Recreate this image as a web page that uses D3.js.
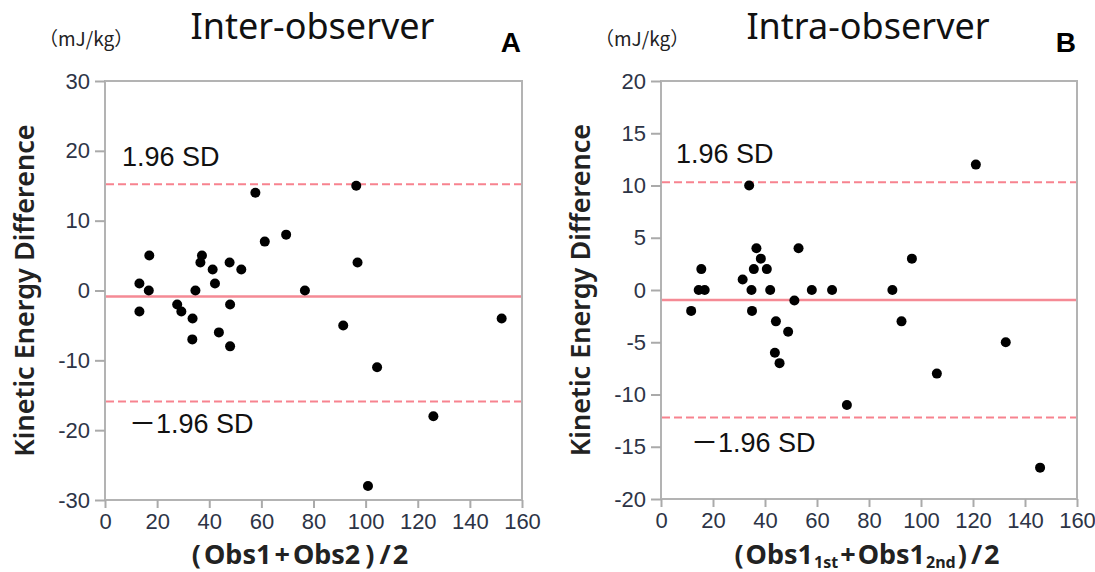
<!doctype html>
<html>
<head>
    <meta charset="UTF-8">
    <title>Bland-Altman</title>
    <script src="https://d3js.org/d3.v7.min.js"></script>
    <style>
        body{ margin:0; background:#fff; }
        .tick text{ font-family:"Liberation Sans", Arial, sans-serif; font-size:22px; fill:#2d3446; }
        .tick line{ stroke:#aaa; stroke-width:2; }
    </style>
</head>
<body>
  <svg width="1095" height="572" id="svg1"></svg>
  <script>
    // panel A : inter-observer
    var interAvg  = [13.2,13.2,17,16.8,27.7,29.3,33.6,33.5,34.7,37.2,36.6,41.3,42.2,43.7,47.8,48,48,52.3,57.7,61.3,69.5,76.7,91.4,96.4,96.9,100.9,104.4,126,152.2];
    var interDiff = [1,-3,5,0,-2,-3,-4,-7,0,5,4,3,1,-6,4,-2,-8,3,14,7,8,0,-5,15,4,-28,-11,-18,-4];
    var interLimits = [15.2, -0.85, -15.9];   // +1.96SD, mean, -1.96SD
    // panel B : intra-observer
    var intraAvg  = [11.6,15.5,14.5,16.8,31.4,33.9,36.7,38.4,35.7,34.8,35.0,40.7,42.0,44.2,48.9,43.8,45.6,52.9,51.3,58.0,65.8,71.5,89.0,92.5,96.5,106.1,121.1,132.6,145.8];
    var intraDiff = [-2,2,0,0,1,10,4,3,2,0,-2,2,0,-3,-4,-6,-7,4,-1,0,0,-11,0,-3,3,-8,12,-5,-17];
    var intraLimits = [10.3, -0.95, -12.2];

    var xTicks  = [0,20,40,60,80,100,120,140,160];
    var yTicksA = [30,20,10,0,-10,-20,-30];
    var yTicksB = [20,15,10,5,0,-5,-10,-15,-20];

    var svg = d3.select("#svg1");
    var plain = function(d){ return String(d); };   // hyphen minus like the original

    function panel(o){
        var g = svg.append("g");
        var x = d3.scaleLinear().domain([0,160]).range([o.left,o.right]);
        var y = d3.scaleLinear().domain(o.yDomain).range([o.bottom,o.top]);

        // frame
        g.append("rect").attr("x",o.left).attr("y",o.top)
            .attr("width",o.right-o.left).attr("height",o.bottom-o.top)
            .attr("fill","none").attr("stroke","#b3b3b3").attr("stroke-width",2);

        var ya = g.append("g").attr("transform","translate("+o.left+",0)")
            .call(d3.axisLeft(y).tickValues(o.yTicks).tickFormat(plain).tickSize(10).tickPadding(5));
        ya.select(".domain").remove();
        var xa = g.append("g").attr("transform","translate(0,"+o.bottom+")")
            .call(d3.axisBottom(x).tickValues(xTicks).tickFormat(plain).tickSize(8).tickPadding(5));
        xa.select(".domain").remove();

        // limits of agreement
        o.limits.forEach(function(v,i){
            g.append("line").attr("x1",o.left+1).attr("x2",o.right-1)
             .attr("y1",y(v)).attr("y2",y(v))
             .attr("stroke", i==1 ? "#f58a95" : "#f7838f")
             .attr("stroke-width", i==1 ? 2.5 : 2)
             .attr("stroke-dasharray", i==1 ? null : "8,4");
        });

        // points
        g.selectAll("circle").data(o.xs).enter().append("circle")
            .attr("cx",function(d){ return x(d); })
            .attr("cy",function(d,i){ return y(o.ys[i]); })
            .attr("r",5).attr("fill","#000");

        // SD labels
        g.append("text").attr("x",o.left+o.upDx).attr("y",y(o.limits[0])+o.upDy)
            .attr("font-family","Liberation Sans, Arial, sans-serif").attr("font-size",27)
            .attr("fill","#111").text("1.96 SD");
        var lo = g.append("text").attr("x",o.left+o.loDx).attr("y",y(o.limits[2])+o.loDy)
            .attr("font-family","Liberation Sans, Arial, sans-serif").attr("font-size",27)
            .attr("fill","#111");
        lo.append("tspan").attr("font-family","Noto Sans CJK JP, sans-serif").text("－");
        lo.append("tspan").text("1.96 SD");

        // unit
        g.append("text").attr("x",o.left-66).attr("y",46)
            .attr("font-family","Noto Sans CJK JP, sans-serif").attr("font-size",19)
            .attr("fill","#222").text("（mJ/kg）");
        // title
        g.append("text").attr("x",(o.left+o.right)/2-1).attr("y",39)
            .attr("text-anchor","middle")
            .attr("font-family","Noto Sans, sans-serif").attr("font-size",36)
            .attr("fill","#111").text(o.title);
        g.append("text").attr("x",o.right-1).attr("y",52)
            .attr("text-anchor","end")
            .attr("font-family","Liberation Sans, Arial, sans-serif").attr("font-weight","bold")
            .attr("font-size",28).attr("fill","#000").text(o.tag);

        // y title
        g.append("text")
            .attr("transform","translate("+(o.left-71)+","+((o.top+o.bottom)/2)+") rotate(-90)")
            .attr("text-anchor","middle")
            .attr("font-family","Noto Sans, sans-serif").attr("font-weight",600)
            .attr("font-size",27).attr("fill","#222").text("Kinetic Energy Difference");

        // x title, pieces: [text, dx, subscript?]
        var t = g.append("text").attr("x",o.xtCx).attr("y",564)
            .attr("text-anchor","middle")
            .attr("font-family","Noto Sans, sans-serif").attr("font-weight","bold")
            .attr("font-size",27).attr("fill","#222");
        var prevSub = false;
        o.xtParts.forEach(function(p){
            var s = t.append("tspan").attr("dx",p[1]).text(p[0]);
            if(p[2]){ s.attr("font-size",16).attr("dy",prevSub ? 0 : 4); prevSub = true; }
            else if(prevSub){ s.attr("dy",-4); prevSub = false; }
        });
    }

    panel({
        left:105, right:522, top:81, bottom:500,
        yDomain:[-30,30], yTicks:yTicksA,
        xs:interAvg, ys:interDiff, limits:interLimits,
        upDx:17, upDy:-18, loDx:24, loDy:31,
        title:"Inter-observer", tag:"A",
        xtCx:300,
        xtParts:[["(",0],["Obs1",3],["+",3],["Obs2",3],[")",5],["/",5],["2",2]]
    });
    panel({
        left:661, right:1077, top:81, bottom:499,
        yDomain:[-20,20], yTicks:yTicksB,
        xs:intraAvg, ys:intraDiff, limits:intraLimits,
        upDx:15, upDy:-19, loDx:30, loDy:35,
        title:"Intra-observer", tag:"B",
        xtCx:867,
        xtParts:[["(",0],["Obs1",2],["1st",1,true],["+",2],["Obs1",2],["2nd",1,true],[")",2],["/",4],["2",2]]
    });
  </script>
</body>
</html>
